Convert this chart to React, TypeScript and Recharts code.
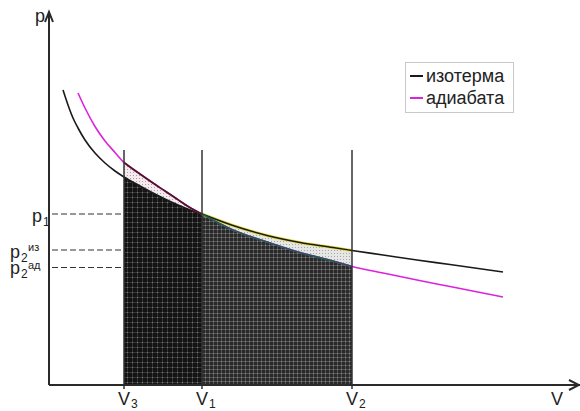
import React from 'react';
import { ComposedChart, Line, Area, XAxis, YAxis, ReferenceLine, ReferenceDot, Legend } from 'recharts';

// Volume grid (common abscissae) and pressures
const V_GRID = [0.28, 0.38, 0.48, 0.58, 0.72, 0.92, 1.12, 1.32, 1.5, 1.82, 2.08, 2.32, 2.56, 2.8, 3.06, 3.68, 4.36, 5.02, 5.68, 6.06, 6.68, 7.36, 8.02, 9.08];
const ISOTHERM = [5.9, 5.6, 5.34, 5.14, 4.9, 4.64, 4.44, 4.28, 4.16, 3.98, 3.84, 3.72, 3.61, 3.51, 3.42, 3.19, 2.99, 2.85, 2.75, 2.69, 2.6, 2.5, 2.41, 2.26];
const ADIABAT = [null, null, null, 5.84, 5.54, 5.17, 4.88, 4.65, 4.45, 4.22, 4.04, 3.88, 3.72, 3.56, 3.42, 3.1, 2.86, 2.65, 2.48, 2.37, 2.24, 2.1, 1.97, 1.76];

const SERIES_NAMES = ['изотерма', 'адиабата'];
const SERIES_COLORS = ['#1a1a1a', '#dd22dd'];

// Volume ticks: V3, V1, V2
const X_TICK_VALUES = [1.5, 3.06, 6.06];
const X_TICK_SUBS = ['3', '1', '2'];
// Pressure ticks: p1, p2из, p2ад
const Y_TICK_VALUES = [3.42, 2.7, 2.35];
const Y_TICK_SUBS = ['1', '2', '2'];
const Y_TICK_SUPS = ['', 'из', 'ад'];

const V_LINE_TOP = 4.7;
const X_MAX = 10.62;
const Y_MAX = 7.46;

const V3 = X_TICK_VALUES[0];
const V1 = X_TICK_VALUES[1];
const V2 = X_TICK_VALUES[2];

const rows = V_GRID.map((v, i) => ({ V: v, iso: ISOTHERM[i], adia: ADIABAT[i] }));
const isoRows = rows;
const adiaRows = rows.filter((r) => r.adia !== null);
const leftSeg = rows.filter((r) => r.V >= V3 && r.V <= V1);
const rightSeg = rows.filter((r) => r.V >= V1 && r.V <= V2);

const FONT = '"Liberation Sans", Arial, sans-serif';
const TEXT = '#222';
const AXIS = '#2a2a2a';

const LegendBox = (props: any) => {
  const payload = props.payload || [];
  const items = SERIES_NAMES.map((name, i) => {
    const found = payload.find((p: any) => p.value === name);
    return { value: name, color: found ? found.color : SERIES_COLORS[i] };
  });
  return (
    <div
      style={{
        border: '1px solid #c8c8c8',
        background: '#fff',
        padding: '2px 4px 3px 4px',
        fontFamily: FONT,
        fontSize: 18,
        color: TEXT,
        lineHeight: '22px',
        width: 99,
      }}
    >
      {items.map((it: any) => (
        <div key={it.value} style={{ display: 'flex', alignItems: 'center' }}>
          <span style={{ display: 'inline-block', width: 13, height: 2, background: it.color, marginRight: 3 }} />
          <span>{it.value}</span>
        </div>
      ))}
    </div>
  );
};

export default function App() {
  return (
    <div style={{ position: 'absolute', left: 0, top: 0, background: '#fff' }}>
      <ComposedChart width={580} height={411} margin={{ top: 0, right: 0, bottom: 0, left: 0 }}>
        <defs>
          <pattern id="patDark" width="5" height="5" patternUnits="userSpaceOnUse">
            <rect width="5" height="5" fill="#131313" />
            <rect x="0" y="2" width="5" height="1" fill="#363636" />
            <rect x="2" y="0" width="1" height="5" fill="#363636" />
            <rect x="2" y="2" width="1" height="1" fill="#767676" />
          </pattern>
          <pattern id="patGrey" width="4" height="4" patternUnits="userSpaceOnUse">
            <rect width="4" height="4" fill="#2a2a2a" />
            <rect x="0" y="1" width="4" height="1" fill="#525252" />
            <rect x="1" y="0" width="1" height="4" fill="#525252" />
            <rect x="1" y="1" width="1" height="1" fill="#8a8a8a" />
          </pattern>
          <pattern id="patPink" width="3" height="3" patternUnits="userSpaceOnUse">
            <rect width="3" height="3" fill="#f3ebee" />
            <rect x="1" y="1" width="1" height="1" fill="#b49aa4" />
          </pattern>
          <pattern id="patLight" width="3" height="3" patternUnits="userSpaceOnUse">
            <rect width="3" height="3" fill="#e6e6e6" />
            <rect x="1" y="1" width="1" height="1" fill="#a8a8a8" />
          </pattern>
        </defs>
        <XAxis type="number" dataKey="V" domain={[-0.98, 10.62]} allowDataOverflow hide />
        <YAxis type="number" domain={[-0.52, 7.7]} allowDataOverflow hide />

        <Line data={isoRows} dataKey="iso" name={SERIES_NAMES[0]} type="monotone" stroke={SERIES_COLORS[0]} strokeWidth={1.6} dot={false} activeDot={false} isAnimationActive={false} />
        <Line data={adiaRows} dataKey="adia" name={SERIES_NAMES[1]} type="monotone" stroke={SERIES_COLORS[1]} strokeWidth={1.6} dot={false} activeDot={false} isAnimationActive={false} />

        <Area data={leftSeg} dataKey={(r: any) => [0, r.iso]} type="monotone" fill="url(#patDark)" fillOpacity={1} stroke="none" legendType="none" dot={false} activeDot={false} isAnimationActive={false} />
        <Area data={leftSeg} dataKey={(r: any) => [r.iso, r.adia]} type="monotone" fill="url(#patPink)" fillOpacity={1} stroke="none" legendType="none" dot={false} activeDot={false} isAnimationActive={false} />
        <Area data={rightSeg} dataKey={(r: any) => [0, r.adia]} type="monotone" fill="url(#patGrey)" fillOpacity={1} stroke="none" legendType="none" dot={false} activeDot={false} isAnimationActive={false} />
        <Area data={rightSeg} dataKey={(r: any) => [r.adia, r.iso]} type="monotone" fill="url(#patLight)" fillOpacity={1} stroke="none" legendType="none" dot={false} activeDot={false} isAnimationActive={false} />

        <Line data={leftSeg} dataKey="adia" type="monotone" stroke="#4a1822" strokeWidth={1.6} dot={false} activeDot={false} legendType="none" isAnimationActive={false} />
        <Line data={rightSeg} dataKey="iso" type="monotone" stroke="#e4e040" strokeWidth={3} dot={false} activeDot={false} legendType="none" isAnimationActive={false} />
        <Line data={rightSeg} dataKey="iso" type="monotone" stroke="#1a1a1a" strokeWidth={1.4} dot={false} activeDot={false} legendType="none" isAnimationActive={false} />
        <Line data={rightSeg} dataKey="adia" type="monotone" stroke="#1d5a52" strokeWidth={1.8} dot={false} activeDot={false} legendType="none" isAnimationActive={false} />

        {X_TICK_VALUES.map((v) => (
          <ReferenceLine key={'v' + v} segment={[{ x: v, y: -0.08 }, { x: v, y: V_LINE_TOP }]} stroke="#333" strokeWidth={1.5} ifOverflow="visible" />
        ))}
        {Y_TICK_VALUES.map((p) => (
          <ReferenceLine key={'h' + p} segment={[{ x: 0.06, y: p }, { x: V3, y: p }]} stroke="#333" strokeWidth={1.2} strokeDasharray="6 3" ifOverflow="visible" />
        ))}

        <ReferenceLine segment={[{ x: 0, y: 0 }, { x: X_MAX, y: 0 }]} stroke={AXIS} strokeWidth={2} ifOverflow="visible" />
        <ReferenceLine segment={[{ x: 0, y: 0 }, { x: 0, y: Y_MAX }]} stroke={AXIS} strokeWidth={2} ifOverflow="visible" />

        <ReferenceDot
          x={X_MAX}
          y={0}
          ifOverflow="visible"
          shape={(p: any) => (
            <g>
              <path d={`M${p.cx - 11},${p.cy - 5} L${p.cx - 1},${p.cy} L${p.cx - 11},${p.cy + 5}`} fill="none" stroke={AXIS} strokeWidth={2} />
              <text x={p.cx - 23} y={p.cy + 20} textAnchor="middle" fontFamily={FONT} fontSize={18} fill={TEXT}>V</text>
            </g>
          )}
        />
        <ReferenceDot
          x={0}
          y={Y_MAX}
          ifOverflow="visible"
          shape={(p: any) => (
            <g>
              <path d={`M${p.cx - 4},${p.cy + 10} L${p.cx},${p.cy} L${p.cx + 4},${p.cy + 10}`} fill="none" stroke={AXIS} strokeWidth={2} />
              <text x={p.cx - 4} y={p.cy + 10} textAnchor="end" fontFamily={FONT} fontSize={18} fill={TEXT}>p</text>
            </g>
          )}
        />

        {X_TICK_VALUES.map((v, i) => (
          <ReferenceDot
            key={'xl' + v}
            x={v}
            y={0}
            ifOverflow="visible"
            shape={(p: any) => (
              <g>
                <text x={p.cx - 6} y={p.cy + 20} fontFamily={FONT} fontSize={18} fill={TEXT}>V</text>
                <text x={p.cx + 7} y={p.cy + 23} fontFamily={FONT} fontSize={12} fill={TEXT}>{X_TICK_SUBS[i]}</text>
              </g>
            )}
          />
        ))}
        {Y_TICK_VALUES.map((v, i) => (
          <ReferenceDot
            key={'yl' + v}
            x={0}
            y={v}
            ifOverflow="visible"
            shape={(p: any) => {
              const hasSup = Y_TICK_SUPS[i] !== '';
              const px = hasSup ? p.cx - 39 : p.cx - 17;
              const base = i === 2 ? 6 : 8;
              return (
                <g fontFamily={FONT} fill={TEXT}>
                  <text x={px} y={p.cy + base} fontSize={18}>p</text>
                  <text x={px + 11} y={p.cy + base + 4} fontSize={12}>{Y_TICK_SUBS[i]}</text>
                  {hasSup && <text x={px + 18} y={p.cy + 1} fontSize={11}>{Y_TICK_SUPS[i]}</text>}
                </g>
              );
            }}
          />
        ))}

        <Legend
          layout="vertical"
          align="center"
          verticalAlign="middle"
          content={LegendBox}
          wrapperStyle={{ position: 'absolute', left: 405, top: 62, width: 'auto', height: 'auto' }}
        />
      </ComposedChart>
    </div>
  );
}
